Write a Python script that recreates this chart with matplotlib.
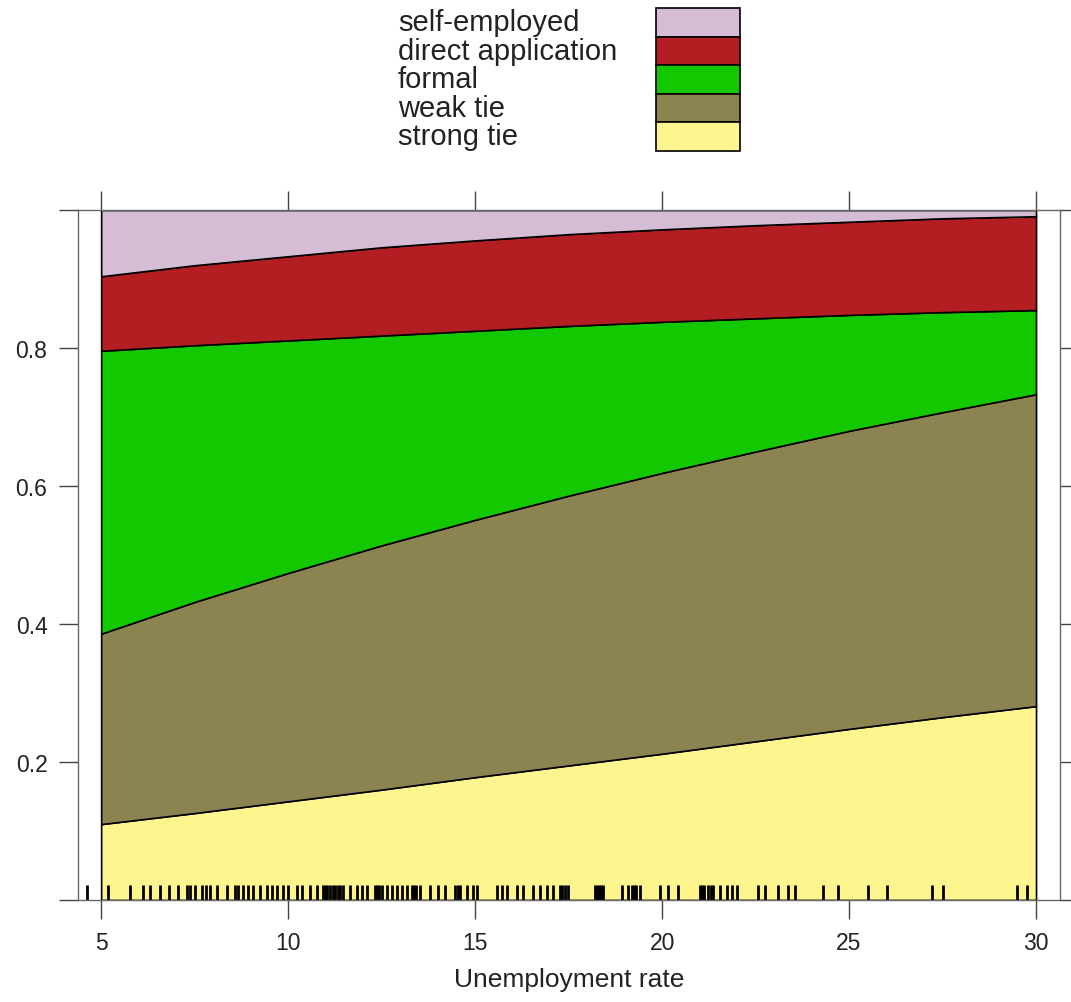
import matplotlib
matplotlib.use('Agg')
import matplotlib.pyplot as plt
import matplotlib.patches as mpatches
import numpy as np

plt.rcParams.update({'font.family': 'Liberation Sans'})

# predicted category shares vs unemployment rate
unemp = [5, 7.5, 10, 12.5, 15, 17.5, 20, 22.5, 25, 27.5, 30]
strong_tie = [0.110, 0.126, 0.143, 0.160, 0.178, 0.195, 0.212, 0.230, 0.248, 0.265, 0.281]
weak_tie = [0.276, 0.306, 0.331, 0.354, 0.373, 0.391, 0.407, 0.420, 0.432, 0.442, 0.452]
formal = [0.410, 0.372, 0.337, 0.304, 0.274, 0.246, 0.219, 0.193, 0.168, 0.145, 0.122]
direct_app = [0.108, 0.116, 0.122, 0.128, 0.131, 0.133, 0.134, 0.135, 0.135, 0.136, 0.136]
self_emp = [0.096, 0.080, 0.067, 0.054, 0.044, 0.035, 0.028, 0.022, 0.017, 0.012, 0.009]

categories = ['strong tie', 'weak tie', 'formal', 'direct application', 'self-employed']
colors = ['#FFF58F', '#8B8450', '#14C800', '#B21E22', '#D6BDD6']

# observed unemployment rates (rug)
rug = [4.63, 5.19, 5.78, 6.12, 6.31, 6.58, 6.82, 7.06, 7.30, 7.38, 7.51, 7.70, 7.81,
       7.91, 8.10, 8.37, 8.58, 8.66, 8.80, 8.93, 9.06, 9.25, 9.44, 9.57, 9.71, 9.87,
       10.0, 10.24, 10.37, 10.59, 10.78, 10.94, 10.99, 11.05, 11.12, 11.20, 11.26,
       11.33, 11.39, 11.47, 11.66, 11.84, 11.98, 12.11, 12.33, 12.38, 12.43, 12.51,
       12.65, 12.78, 12.91, 13.05, 13.18, 13.32, 13.37, 13.42, 13.53, 13.80, 14.01,
       14.20, 14.47, 14.53, 14.60, 14.79, 14.95, 15.05, 15.59, 15.72, 15.86, 16.12,
       16.28, 16.55, 16.74, 16.93, 17.09, 17.27, 17.33, 17.41, 17.49, 18.21, 18.27,
       18.32, 18.37, 18.42, 18.93, 19.09, 19.20, 19.25, 19.30, 19.41, 19.95, 20.16,
       20.43, 21.02, 21.07, 21.12, 21.23, 21.30, 21.36, 21.55, 21.74, 21.87, 22.01,
       22.57, 22.75, 23.10, 23.37, 23.56, 24.30, 24.71, 25.51, 26.02, 27.22, 27.51,
       29.49, 29.76]

fig = plt.figure(figsize=(10.71, 10.03), dpi=100)
ax = fig.add_axes([0.0728, 0.1017, 0.9169, 0.6879])

ax.stackplot(unemp, strong_tie, weak_tie, formal, direct_app, self_emp,
             colors=colors, edgecolor='black', linewidth=1.2)

ax.vlines(rug, 0, 0.022, color='black', linewidth=2.0,
          transform=ax.get_xaxis_transform())

ax.set_xlim(4.38, 30.64)
ax.set_ylim(0, 1)
ax.set_xticks([5, 10, 15, 20, 25, 30])
ax.set_yticks([0, 0.2, 0.4, 0.6, 0.8, 1.0])
ax.set_yticklabels(['', '0.2', '0.4', '0.6', '0.8', ''])
ax.tick_params(direction='out', length=14, width=1, color='#444444',
               top=True, right=True, labelsize=16.5, pad=8, labelcolor='#222222')
for s in ax.spines.values():
    s.set_color('#666666')
    s.set_linewidth(1)
ax.set_xlabel('Unemployment rate', fontsize=19, labelpad=10, color='#222222')

# legend drawn as a key on top
row_h = 28.5 / 1003
box_x0, box_w = 656 / 1071, 84 / 1071
top_y = 1 - 9 / 1003
for i, (lab, col) in enumerate(zip(categories[::-1], colors[::-1])):
    y0 = top_y - (i + 1) * row_h
    fig.patches.append(mpatches.Rectangle((box_x0, y0), box_w, row_h,
                                          transform=fig.transFigure,
                                          facecolor=col, edgecolor='black',
                                          linewidth=1.2))
    fig.text(398 / 1071, y0 + row_h / 2, lab, fontsize=21,
             ha='left', va='center', color='#222222')

fig.savefig('out.png', dpi=100, facecolor='white')
